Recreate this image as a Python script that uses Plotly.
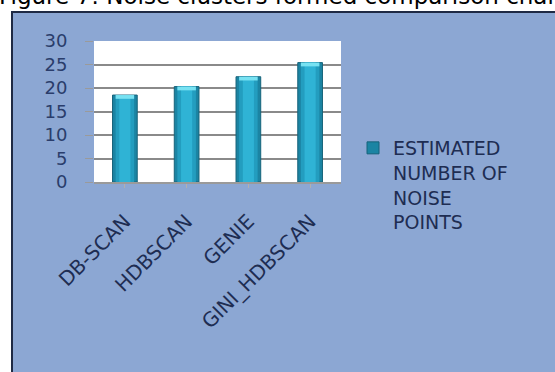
import plotly.graph_objects as go

# Estimated noise points per clustering method
methods = ["DB-SCAN", "HDBSCAN", "GENIE", "GINI_HDBSCAN"]
noise_points = [18.5, 20.3, 22.4, 25.4]
series_name = "ESTIMATED<br>NUMBER OF<br>NOISE<br>POINTS"
y_ticks = [0, 5, 10, 15, 20, 25, 30]
title_text = "Figure 7: Noise clusters formed comparison chart"

W, H = 555, 372
L, R, T, B = 94, 214, 41, 190
pw, ph = W - L - R, H - T - B

def px_x(x):
    return (x - L) / pw

def px_y(y):
    return (H - B - y) / ph

navy = "#1e2d52"
font_family = "DejaVu Sans, sans-serif"

fig = go.Figure()

# Cylinder-like shading: stacked overlays of narrowing, lighter bars
layers = [
    (0.40, "#1b84a3", True),
    (0.30, "#239dbf", False),
    (0.18, "#2fb3d5", False),
]
for width, color, show in layers:
    fig.add_trace(go.Bar(
        x=methods, y=noise_points, width=width,
        marker=dict(color=color, line=dict(color="#17637a", width=1 if show else 0)),
        name=series_name, showlegend=show, legendgroup="s",
    ))

# Highlighted cap on top of each bar
cap = 0.8
fig.add_trace(go.Bar(
    x=methods, y=[cap] * len(methods), base=[v - cap for v in noise_points],
    width=0.30, marker=dict(color="#78e2f2", line=dict(width=0)),
    showlegend=False, legendgroup="s", hoverinfo="skip",
))

fig.update_layout(
    width=W, height=H,
    margin=dict(l=L, r=R, t=T, b=B),
    paper_bgcolor="white",
    plot_bgcolor="white",
    barmode="overlay",
    font=dict(family=font_family, color=navy),
    shapes=[
        # chart frame
        dict(type="rect", xref="paper", yref="paper", layer="below",
             x0=px_x(12), x1=px_x(W + 10), y0=px_y(H + 10), y1=px_y(12),
             fillcolor="#8ca7d3", line=dict(color="#1f2a44", width=2)),
        # white plot area
        dict(type="rect", xref="paper", yref="paper", layer="below",
             x0=0, x1=1, y0=0, y1=1,
             fillcolor="white", line=dict(width=0)),
    ],
    annotations=[dict(
        text=title_text, xref="paper", yref="paper",
        x=px_x(-3), y=px_y(11), xanchor="left", yanchor="bottom",
        showarrow=False, font=dict(size=23, color="black", family=font_family),
    )],
    legend=dict(
        x=px_x(353), y=px_y(129), xanchor="left", yanchor="top",
        bgcolor="rgba(0,0,0,0)", valign="top",
        font=dict(size=19, color=navy), itemwidth=30,
    ),
    bargap=0.6,
)

fig.update_yaxes(
    range=[0, 30], tickvals=y_ticks, showgrid=True,
    gridcolor="#8a8a8a", gridwidth=1.5,
    ticks="outside", ticklen=8, tickcolor="#9a9a9a",
    ticklabelstandoff=14, tickfont=dict(size=18, color="#2a3d6b"),
    zeroline=False, showline=False,
)
fig.update_xaxes(
    tickangle=-45, tickfont=dict(size=20, color=navy),
    showline=True, linecolor="#9a9a9a", linewidth=1.5,
    ticks="outside", ticklen=4, tickcolor="#b0b0b0",
    ticklabelstandoff=14,
)

fig.write_html("out.html")
